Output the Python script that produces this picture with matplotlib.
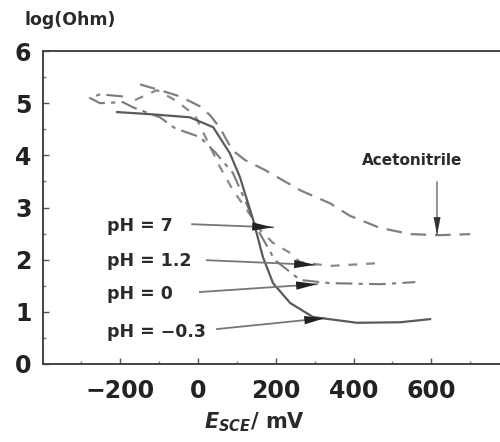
import matplotlib
matplotlib.use("Agg")
import matplotlib.pyplot as plt
from matplotlib.ticker import MultipleLocator

plt.rcParams['font.family'] = ['DejaVu Sans']
plt.rcParams['mathtext.fontset'] = 'dejavusans'

# Data (E in mV, log(Ohm))
acn_x = [-149, -98, -46, 5, 31, 57, 88, 121, 172, 263, 340, 391, 468, 546, 623, 700]
acn_y = [5.36, 5.25, 5.13, 4.94, 4.77, 4.52, 4.10, 3.91, 3.72, 3.33, 3.08, 2.84, 2.61, 2.49, 2.47, 2.49]

solid_x = [-208, -124, -21, 39, 82, 108, 142, 167, 193, 237, 296, 409, 520, 597]
solid_y = [4.83, 4.79, 4.73, 4.54, 4.04, 3.58, 2.76, 2.05, 1.55, 1.17, 0.90, 0.79, 0.80, 0.86]

ph12_x = [-162, -106, -59, -8, 23, 57, 90, 126, 160, 193, 237, 263, 340, 456]
ph12_y = [5.06, 5.25, 5.06, 4.77, 4.29, 3.77, 3.33, 2.95, 2.57, 2.32, 2.13, 1.95, 1.88, 1.93]

ph0_x = [-193, -252, -278, -252, -193, -167, -98, -59, 5, 44, 90, 121, 154, 198, 263, 340, 469, 559]
ph0_y = [5.13, 5.17, 5.10, 5.00, 5.02, 4.92, 4.73, 4.52, 4.35, 4.06, 3.66, 3.14, 2.57, 1.99, 1.61, 1.55, 1.53, 1.57]

labels = ["pH = 7", "pH = 1.2", "pH = 0", "pH = \u22120.3"]
label_x = [-234, -234, -234, -234]
label_y = [2.64, 1.97, 1.34, 0.62]
arrow_start_x = [-15, 23, 5, 49]
arrow_start_y = [2.68, 1.99, 1.38, 0.67]
arrow_tip_x = [193, 301, 306, 327]
arrow_tip_y = [2.62, 1.90, 1.53, 0.88]

acn_label = "Acetonitrile"
acn_label_xy = (551, 3.91)
acn_arrow_from = (615, 3.49)
acn_arrow_to = (615, 2.47)

fig = plt.figure(figsize=(5, 4.42), dpi=100)
ax = fig.add_axes([0.085, 0.1765, 0.933, 0.708])
ax.set_xlim(-400, 800)
ax.set_ylim(0, 6)

ax.plot(acn_x, acn_y, color='#808080', lw=1.6, linestyle=(0, (7, 4)))
ax.plot(ph12_x, ph12_y, color='#8a8a8a', lw=1.6, linestyle=(0, (4, 4)))
ax.plot(ph0_x, ph0_y, color='#7a7a7a', lw=1.5, linestyle=(0, (8, 3, 2, 3)))
ax.plot(solid_x, solid_y, color='#5a5a5a', lw=1.6)

for t, lx, ly, sx, sy, tx, ty in zip(labels, label_x, label_y, arrow_start_x,
                                     arrow_start_y, arrow_tip_x, arrow_tip_y):
    ax.text(lx, ly, t, fontsize=12.5, fontweight='bold', color='#2a2a2a',
            va='center', ha='left')
    ax.plot([sx, tx], [sy, ty], color='#777777', lw=1.3)
    ax.annotate('', xy=(tx, ty), xytext=(sx, sy),
                arrowprops=dict(arrowstyle='-|>,head_length=1.5,head_width=0.3',
                                color='#222222', lw=0, shrinkA=0, shrinkB=0))

ax.text(acn_label_xy[0], acn_label_xy[1], acn_label, fontsize=11, fontweight='bold',
        color='#2a2a2a', ha='center', va='center')
ax.plot([acn_arrow_from[0], acn_arrow_to[0]], [acn_arrow_from[1], acn_arrow_to[1]],
        color='#777777', lw=1.1)
ax.annotate('', xy=acn_arrow_to, xytext=acn_arrow_from,
            arrowprops=dict(arrowstyle='-|>,head_length=1.3,head_width=0.25',
                            color='#333333', lw=0, shrinkA=0, shrinkB=0))

for s in ['left', 'bottom', 'top', 'right']:
    ax.spines[s].set_color('#444444')
    ax.spines[s].set_linewidth(1.4)

ax.xaxis.set_major_locator(MultipleLocator(200))
ax.xaxis.set_minor_locator(MultipleLocator(100))
ax.yaxis.set_major_locator(MultipleLocator(1))
ax.yaxis.set_minor_locator(MultipleLocator(0.5))
ax.set_xticks([-200, 0, 200, 400, 600])
ax.tick_params(which='major', direction='in', length=4, width=1, color='#555555',
               labelsize=17, labelcolor='#222222')
ax.tick_params(which='minor', direction='in', length=2.5, width=1, color='#777777')
ax.tick_params(axis='x', which='major', pad=11)
ax.tick_params(axis='y', which='major', pad=8)
for lab in ax.get_xticklabels() + ax.get_yticklabels():
    lab.set_fontweight('bold')

fig.text(0.05, 0.955, 'log(Ohm)', fontsize=12.5, fontweight='bold', color='#2a2a2a',
         ha='left', va='center')
fig.text(0.51, 0.045, r'$\mathbfit{E}_{\mathbfit{SCE}}$/ mV', fontsize=15,
         fontweight='bold', color='#2a2a2a', ha='center', va='center')

fig.savefig('out.png', dpi=100)
